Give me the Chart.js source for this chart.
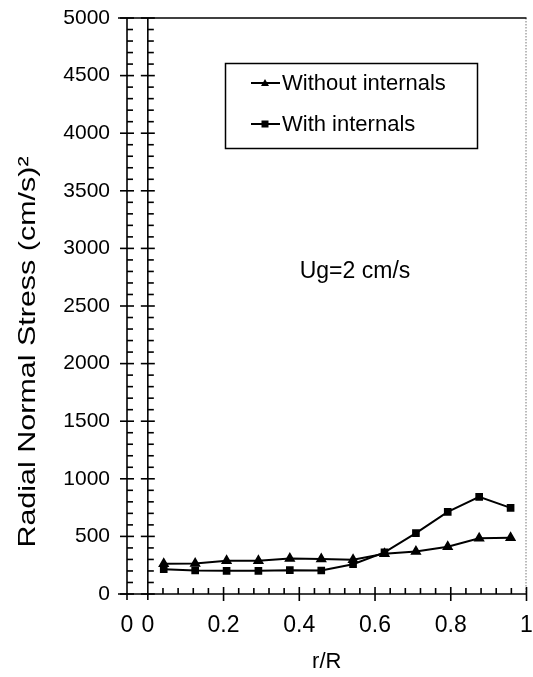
<!DOCTYPE html>
<html>
<head>
<meta charset="utf-8">
<script src="https://cdn.jsdelivr.net/npm/chart.js@4"></script>
<style>
  html, body { margin: 0; padding: 0; background: #fff; }
  #wrap { width: 533px; height: 677px; }
</style>
</head>
<body>
<div id="wrap"><canvas id="myChart" width="533" height="677"></canvas></div>
<script>
// r/R positions (bin centres)
const rR = [0.042, 0.125, 0.208, 0.292, 0.375, 0.458, 0.542, 0.625, 0.708, 0.792, 0.875, 0.958];
// radial normal stress (cm/s)^2
const withoutInternals = [262, 265, 288, 288, 308, 303, 297, 349, 369, 410, 483, 489];
const withInternals = [215, 204, 201, 201, 207, 204, 259, 361, 529, 713, 843, 748];
const xTicks = [-0.055, 0, 0.2, 0.4, 0.6, 0.8, 1];
const seriesLabels = ['Without internals', 'With internals'];
const noteText = 'Ug=2 cm/s';
const yTitle = 'Radial Normal Stress (cm/s)\u00B2';
const xTitle = 'r/R';

const FONT = "'Liberation Sans', Arial, Helvetica, sans-serif";

// axes drawn like the old spreadsheet style: double left axis, crossing ticks
const axesPlugin = {
    id: 'axesDeco',
    beforeDatasetsDraw(chart) {
        const ctx = chart.ctx;
        const area = chart.chartArea;
        const xs = chart.scales.x, ys = chart.scales.y;
        ctx.save();
        ctx.strokeStyle = '#000';
        ctx.lineWidth = 1.6;

        // right border, dotted grey
        ctx.save();
        ctx.strokeStyle = '#777';
        ctx.lineWidth = 1;
        ctx.setLineDash([1.5, 1.5]);
        ctx.beginPath();
        ctx.moveTo(area.right - 0.5, area.top);
        ctx.lineTo(area.right - 0.5, area.bottom);
        ctx.stroke();
        ctx.restore();

        // top line
        ctx.beginPath();
        ctx.moveTo(118, area.top);
        ctx.lineTo(area.right, area.top);
        ctx.stroke();

        // x axis line
        ctx.beginPath();
        ctx.moveTo(118, area.bottom);
        ctx.lineTo(area.right, area.bottom);
        ctx.stroke();

        // two vertical axes
        const axX = [area.left, xs.getPixelForValue(0)];
        axX.forEach(ax => {
            ctx.beginPath();
            ctx.moveTo(ax, area.top);
            ctx.lineTo(ax, area.bottom + 6);
            ctx.stroke();
            for (let v = 0; v <= 5000; v += 100) {
                const py = ys.getPixelForValue(v);
                ctx.beginPath();
                if (v % 500 === 0) {
                    ctx.moveTo(ax - 7, py);
                    ctx.lineTo(ax + 7, py);
                } else {
                    ctx.moveTo(ax, py);
                    ctx.lineTo(ax + 6, py);
                }
                ctx.stroke();
            }
        });

        // x ticks
        for (let i = 1; i <= 25; i++) {
            const v = i * 0.04;
            const px = xs.getPixelForValue(v);
            ctx.beginPath();
            if (i % 5 === 0) {
                ctx.moveTo(px, area.bottom - 7);
                ctx.lineTo(px, area.bottom + 7);
            } else {
                ctx.moveTo(px, area.bottom - 6);
                ctx.lineTo(px, area.bottom);
            }
            ctx.stroke();
        }
        ctx.restore();
    },
    afterDraw(chart) {
        const ctx = chart.ctx;
        ctx.save();
        ctx.fillStyle = '#000';
        ctx.strokeStyle = '#000';

        // y title (wide lettering)
        ctx.save();
        ctx.translate(28, 352);
        ctx.rotate(-Math.PI / 2);
        ctx.scale(1.27, 1);
        ctx.font = '24px ' + FONT;
        ctx.textAlign = 'center';
        ctx.textBaseline = 'middle';
        ctx.fillText(yTitle, 0, 0);
        ctx.restore();

        // note
        ctx.font = '23px ' + FONT;
        ctx.textAlign = 'center';
        ctx.textBaseline = 'middle';
        ctx.fillText(noteText, 355, 272);

        // legend box
        ctx.lineWidth = 1.5;
        ctx.strokeRect(225.5, 63.5, 252, 85);
        const rows = [83, 124];
        const styles = ['triangle', 'rect'];
        ctx.font = '22px ' + FONT;
        ctx.textAlign = 'left';
        rows.forEach((ry, i) => {
            ctx.lineWidth = 2;
            ctx.beginPath();
            ctx.moveTo(251, ry);
            ctx.lineTo(280, ry);
            ctx.stroke();
            ctx.beginPath();
            if (styles[i] === 'triangle') {
                ctx.moveTo(265, ry - 4);
                ctx.lineTo(269, ry + 3);
                ctx.lineTo(261, ry + 3);
                ctx.closePath();
            } else {
                ctx.rect(261.5, ry - 3.5, 7, 7);
            }
            ctx.fill();
            ctx.fillText(seriesLabels[i], 282, ry + 1);
        });
        ctx.restore();
    }
};

const ctx = document.getElementById('myChart').getContext('2d');
const chart = new Chart(ctx, {
    type: 'line',
    data: {
        datasets: [{
            label: seriesLabels[0],
            data: rR.map((x, i) => ({ x: x, y: withoutInternals[i] })),
            borderColor: '#000',
            backgroundColor: '#000',
            borderWidth: 2,
            pointStyle: 'triangle',
            pointRadius: 4.5,
            tension: 0
        }, {
            label: seriesLabels[1],
            data: rR.map((x, i) => ({ x: x, y: withInternals[i] })),
            borderColor: '#000',
            backgroundColor: '#000',
            borderWidth: 2,
            pointStyle: 'rect',
            pointRadius: 4,
            tension: 0
        }]
    },
    options: {
        responsive: false,
        animation: false,
        devicePixelRatio: 1,
        layout: { padding: { top: 18, right: 5, left: 0, bottom: 0 } },
        plugins: {
            legend: { display: false },
            tooltip: { enabled: false }
        },
        scales: {
            x: {
                type: 'linear',
                min: -0.055,
                max: 1,
                afterBuildTicks: scale => { scale.ticks = xTicks.map(v => ({ value: v })); },
                afterFit: scale => {
                    scale.height = 83;
                    scale.paddingLeft = 0;
                    scale.paddingRight = 0;
                },
                ticks: {
                    color: '#000',
                    font: { family: FONT, size: 23 },
                    padding: 18,
                    maxRotation: 0,
                    autoSkip: false,
                    callback: v => (v < 0 ? '0' : String(Math.round(v * 10) / 10))
                },
                grid: { display: false, drawTicks: false },
                border: { display: false },
                title: {
                    display: true,
                    text: xTitle,
                    color: '#000',
                    font: { family: FONT, size: 22 },
                    padding: { top: 0, bottom: 2 }
                }
            },
            y: {
                min: 0,
                max: 5000,
                afterFit: scale => {
                    scale.width = 127;
                    scale.paddingTop = 0;
                    scale.paddingBottom = 0;
                },
                ticks: {
                    stepSize: 500,
                    color: '#000',
                    font: { family: FONT, size: 21 },
                    padding: 17,
                    callback: v => String(v)
                },
                grid: { display: false, drawTicks: false },
                border: { display: false }
            }
        }
    },
    plugins: [axesPlugin]
});
</script>
</body>
</html>
